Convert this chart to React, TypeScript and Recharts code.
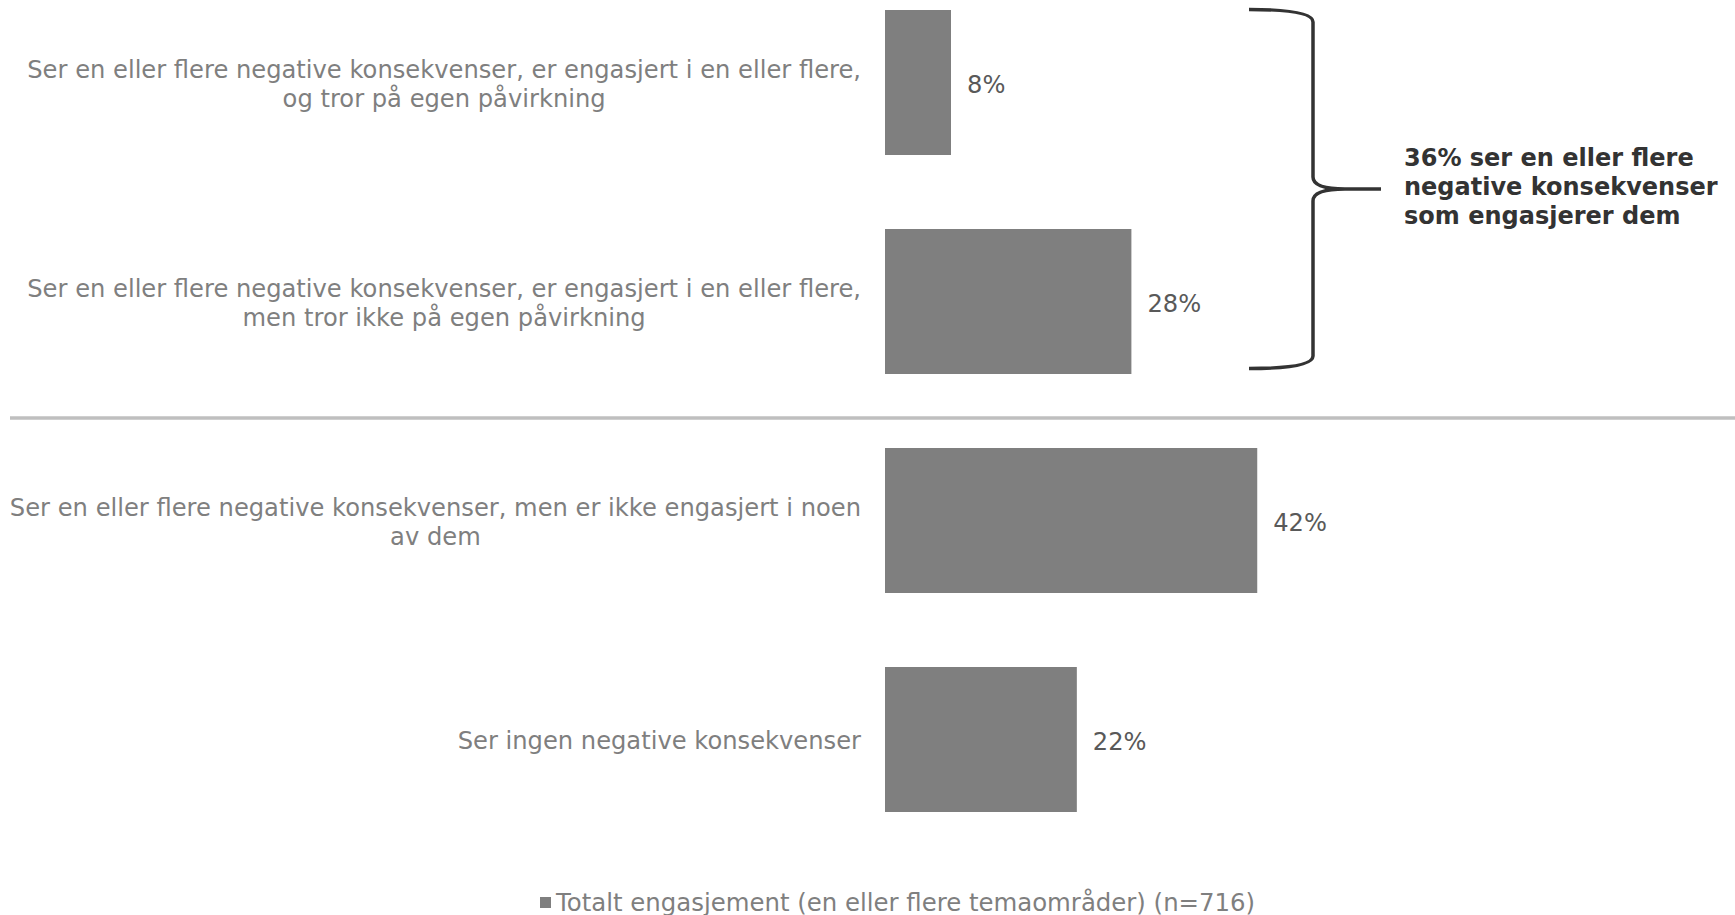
import { Bar, BarChart, Customized, LabelList, Legend, XAxis, YAxis } from "recharts";

const categories = [
  "Ser en eller flere negative konsekvenser, er engasjert i en eller flere,\nog tror på egen påvirkning",
  "Ser en eller flere negative konsekvenser, er engasjert i en eller flere,\nmen tror ikke på egen påvirkning",
  "Ser en eller flere negative konsekvenser, men er ikke engasjert i noen\nav dem",
  "Ser ingen negative konsekvenser",
];
const totalValues = [7.5, 28, 42.3, 21.8];
const seriesName = "Totalt engasjement (en eller flere temaområder) (n=716)";
const bracketLines = ["36% ser en eller flere", "negative konsekvenser", "som engasjerer dem"];

const FONT = "DejaVu Sans";
const GREY = "#7f7f7f";
const LABEL_SIZE = 24.2;

const data = categories.map((name, i) => ({ name, value: totalValues[i] }));

let ctx: CanvasRenderingContext2D | null = null;
function measure(text: string) {
  if (!ctx) ctx = document.createElement("canvas").getContext("2d");
  if (!ctx) return text.length * 12;
  ctx.font = `${LABEL_SIZE}px "${FONT}"`;
  return ctx.measureText(text).width;
}

function CategoryTick(props: any) {
  const { x, y, payload } = props;
  const lines = String(payload.value).split("\n");
  const w = Math.max(...lines.map(measure));
  const cx = x - w / 2;
  const top = y + 1.5 - ((lines.length - 1) * 29) / 2;
  return (
    <text fill={GREY} fontSize={LABEL_SIZE} fontFamily={FONT} textAnchor="middle" dominantBaseline="central">
      {lines.map((line, i) => (
        <tspan key={i} x={cx} y={top + i * 29}>
          {line}
        </tspan>
      ))}
    </text>
  );
}

function Overlay() {
  return (
    <g>
      <line x1={10} x2={1735} y1={418} y2={418} stroke="#bfbfbf" strokeWidth={3.5} />
      <path
        d="M1249,9.5 Q1313,9.5 1313,22 L1313,177 Q1313,189 1345,189 L1381,189 M1345,189 Q1313,189 1313,201 L1313,356 Q1313,368.5 1249,368.5"
        fill="none"
        stroke="#333333"
        strokeWidth={3.5}
      />
      <text fill="#333333" fontSize={24} fontWeight="bold" fontFamily={FONT} dominantBaseline="central">
        {bracketLines.map((line, i) => (
          <tspan key={i} x={1404} y={158 + i * 29}>
            {line}
          </tspan>
        ))}
      </text>
    </g>
  );
}

function LegendContent() {
  return (
    <div style={{ display: "flex", alignItems: "center", fontFamily: FONT, fontSize: 24.4, color: GREY, whiteSpace: "nowrap" }}>
      <span style={{ display: "inline-block", width: 11, height: 11, background: GREY, marginRight: 5 }} />
      {seriesName}
    </div>
  );
}

export default function App() {
  return (
    <div style={{ position: "absolute", left: 0, top: 0, width: 1735, height: 915, background: "#fff" }}>
      <BarChart
        width={1735}
        height={915}
        data={data}
        layout="vertical"
        barSize={145}
        margin={{ top: -27, right: 410, bottom: 66, left: 0 }}
      >
        <XAxis type="number" domain={[0, 50]} hide />
        <YAxis
          type="category"
          dataKey="name"
          width={885}
          axisLine={false}
          tickLine={false}
          tickSize={0}
          tickMargin={24}
          interval={0}
          tick={<CategoryTick />}
        />
        <Legend
          layout="horizontal"
          verticalAlign="middle"
          align="center"
          content={<LegendContent />}
          wrapperStyle={{ top: 888, left: 540, width: "auto", height: 30 }}
        />
        <Bar dataKey="value" name={seriesName} fill={GREY} isAnimationActive={false}>
          <LabelList
            dataKey="value"
            position="right"
            offset={16}
            fill="#595959"
            fontSize={24.2}
            fontFamily={FONT}
            dy={2}
            formatter={(v: any) => `${Math.round(Number(v))}%`}
          />
        </Bar>
        <Customized component={Overlay} />
      </BarChart>
    </div>
  );
}
